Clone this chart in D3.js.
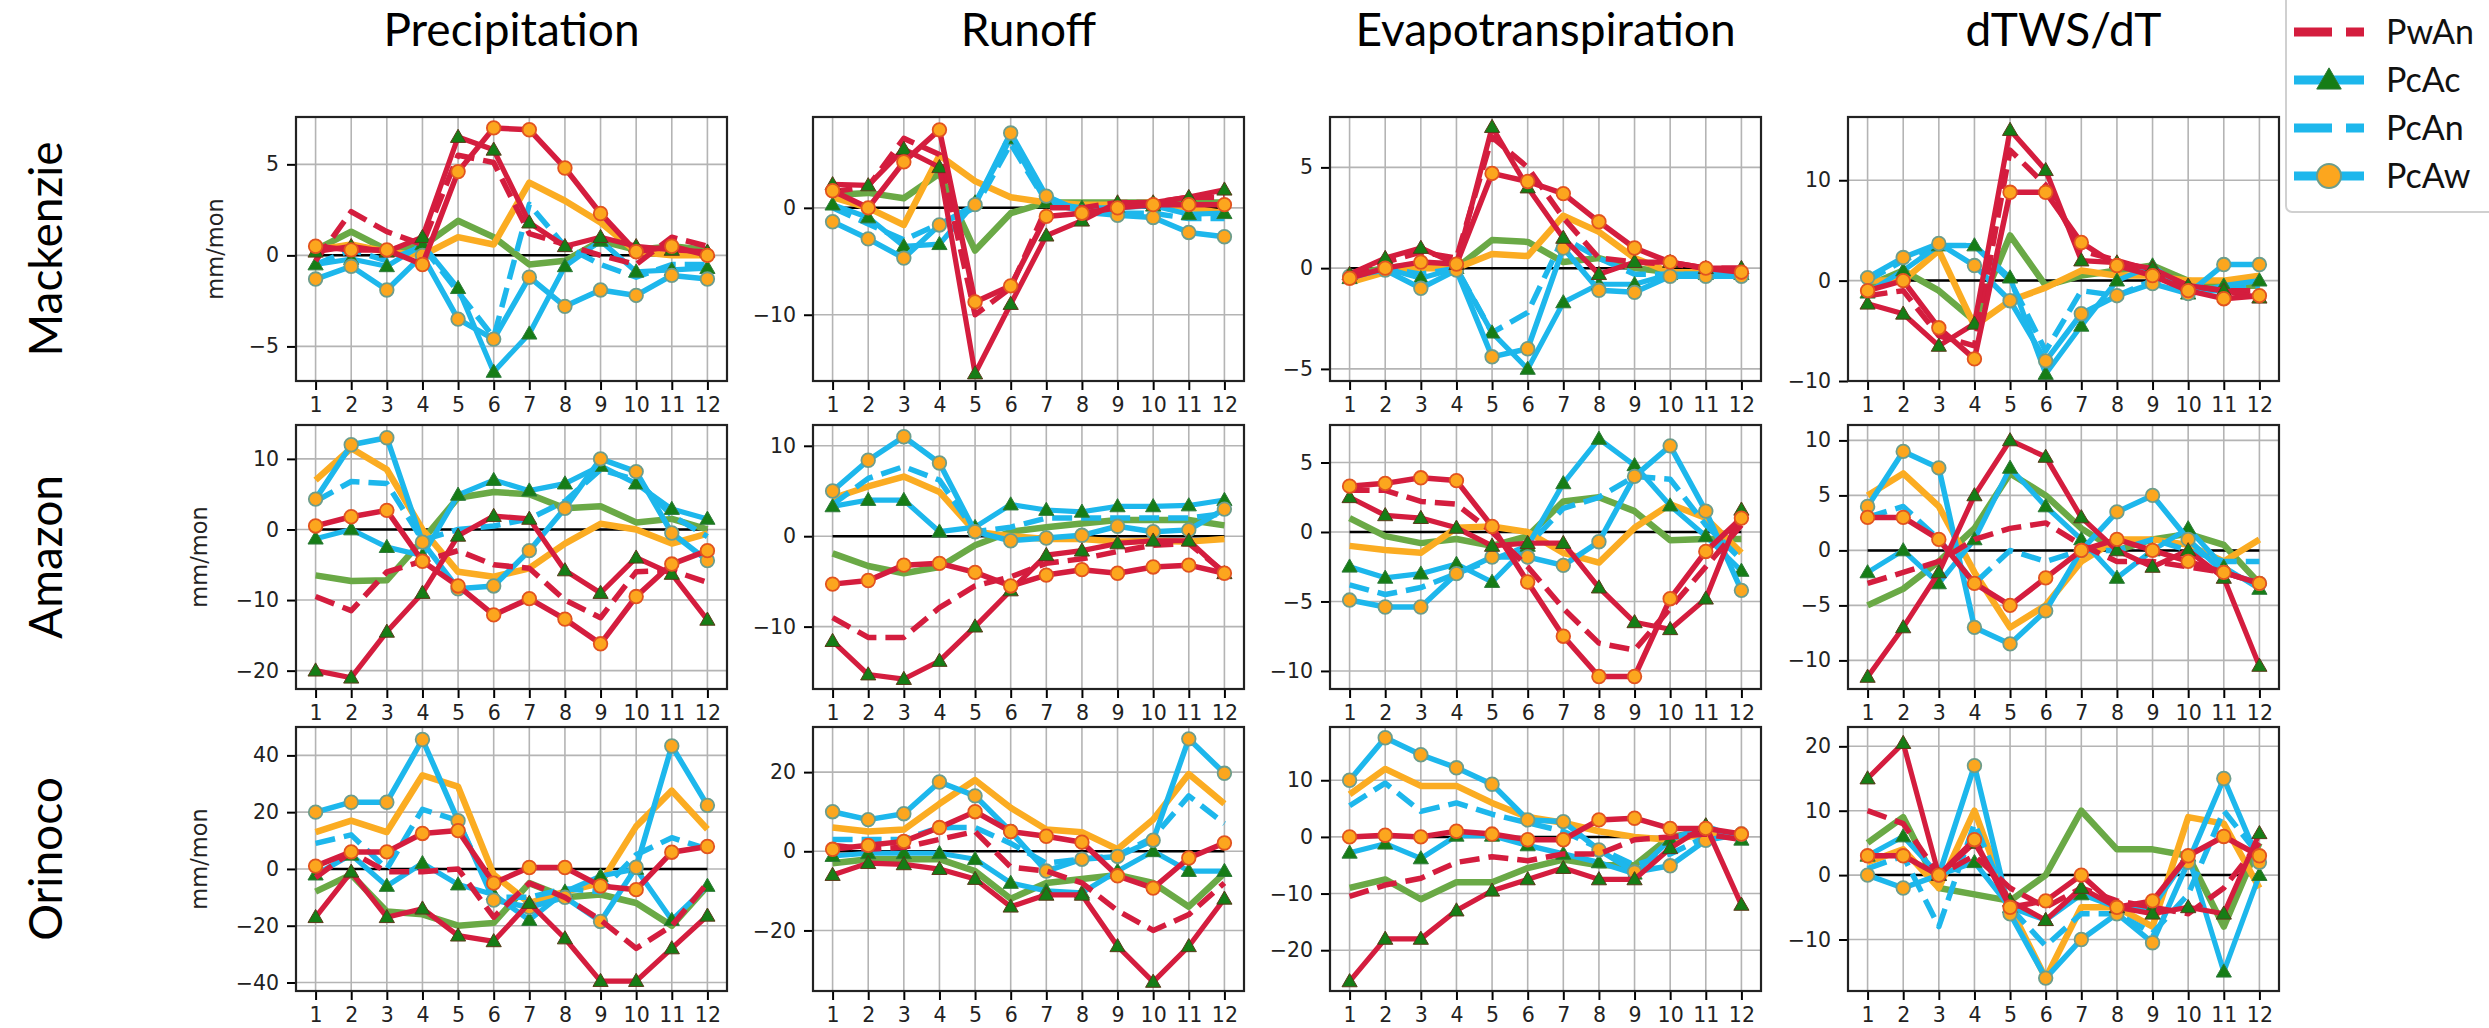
<!DOCTYPE html>
<html>
<head>
<meta charset="utf-8">
<script src="https://cdn.jsdelivr.net/npm/d3@7"></script>
<style>
  body { margin: 0; background: #fff; }
</style>
</head>
<body>
<svg id="chart"></svg>
<script>
// months on the x axis, basins by row, variables by column
const months = [1, 2, 3, 4, 5, 6, 7, 8, 9, 10, 11, 12]
const basins = ['Mackenzie', 'Amazon', 'Orinoco']
const variables = ['Precipitation', 'Runoff', 'Evapotranspiration', 'dTWS/dT']

// order of the rows inside every panel array (also the drawing order)
const seriesKeys = ['green', 'orange', 'PcAn', 'PcAc', 'PcAw', 'PwAn', 'PwAc', 'PwAw']
const legendKeys = ['PwAn', 'PcAc', 'PcAn', 'PcAw']

// Mackenzie
const mackenziePrecipitation = [
  [0.3, 1.3, 0.3, 0.5, 1.9, 1.0, -0.5, -0.3, 0.8, 0.3, 0.5, 0.3],
  [0.3, 0.6, 0.2, 0, 1.0, 0.6, 4.0, 3.0, 1.8, 0.2, 0, 0],
  [-0.5, 0.3, -0.3, 0.5, -2.0, -4.5, 2.8, 0.5, -0.5, -1.2, -0.5, -0.5],
  [-0.5, -0.2, -0.6, 0.6, -1.8, -6.4, -4.3, -0.6, 0.8, -0.9, -0.8, -0.7],
  [-1.3, -0.6, -1.9, 0, -3.5, -4.6, -1.2, -2.8, -1.9, -2.2, -1.1, -1.3],
  [-0.3, 2.4, 1.3, 0.6, 5.5, 5.1, 1.2, 0.6, 0, -0.5, 1.0, 0.5],
  [0.2, 0.5, 0.2, 1.0, 6.5, 5.8, 1.8, 0.5, 1.0, 0.5, 0.3, 0.2],
  [0.5, 0.3, 0.3, -0.5, 4.6, 7.0, 6.9, 4.8, 2.3, 0.2, 0.5, 0]
]
const mackenzieRunoff = [
  [1.2, 1.4, 0.9, 3.2, -4.0, -0.5, 0.5, 0.5, 0.5, 0.5, 0.5, 0.5],
  [1.0, 0, -1.6, 4.9, 2.5, 1.0, 0.5, 0.3, 0.3, 0.5, 0, -0.5],
  [0, -1.5, -3.0, -1.5, 0, 6.0, 0.5, -0.3, -0.5, -0.5, -1.0, -1.0],
  [0.3, -0.9, -3.6, -3.4, 0.5, 6.5, 0.5, 0, 0, 0.2, -0.6, -0.5],
  [-1.3, -2.9, -4.7, -1.6, 0.3, 7.0, 1.1, -0.4, -0.7, -0.9, -2.3, -2.7],
  [1.5, 2.0, 6.5, 5.0, -10.0, -7.5, 0, 0, 0.5, 0.5, 1.0, 1.0],
  [2.2, 2.1, 5.5, 3.8, -15.5, -9.0, -2.6, -1.2, 0.5, 0.5, 1.0, 1.7],
  [1.6, 0, 4.3, 7.3, -8.8, -7.3, -0.8, -0.5, 0, 0.3, 0.3, 0.3]
]
const mackenzieEvapotranspiration = [
  [-0.3, 0, 0.2, 0, 1.4, 1.3, 0.3, 0.5, 0, -0.2, -0.3, -0.3],
  [-0.7, -0.2, 0, 0, 0.7, 0.6, 2.6, 1.8, 0.5, -0.2, -0.2, -0.3],
  [-0.3, 0, -0.3, 0, -3.2, -2.2, 1.5, 0.5, -0.3, -0.3, -0.3, -0.3],
  [-0.5, 0, -0.5, 0, -3.2, -5.0, -1.7, -0.8, -0.8, -0.3, -0.3, -0.3],
  [-0.4, -0.1, -1.0, -0.1, -4.4, -4.0, 1.0, -1.1, -1.2, -0.4, -0.4, -0.4],
  [-0.3, 0.3, 0.8, 0.5, 6.5, 5.0, 2.5, 0.5, 0.3, 0.2, 0, 0],
  [-0.3, 0.5, 1.0, 0.2, 7.0, 4.0, 1.5, -0.3, 0.3, 0.3, 0, 0],
  [-0.5, 0, 0.3, 0.2, 4.7, 4.3, 3.7, 2.3, 1.0, 0.3, 0, -0.2]
]
const mackenzieDTWS = [
  [-0.5, 1.0, -1.0, -4.0, 4.5, -0.5, 0.5, 1.0, 1.5, 0, -0.5, -0.5],
  [0, 0, 3.0, -4.5, -2.0, -0.7, 1.0, 0.5, 0.5, 0, 0, 0.5],
  [0, 2.0, 3.5, 3.5, 0, -7.0, -1.0, -1.5, 0, -1.0, -1.0, -0.5],
  [-1.2, 1.0, 3.5, 3.5, 0.3, -9.3, -4.5, 0, 1.5, -1.3, -0.5, 0],
  [0.3, 2.3, 3.7, 1.5, -2.0, -8.0, -3.3, -1.5, -0.3, -1.3, 1.6, 1.6],
  [-1.5, -1.0, -5.5, -6.5, 13.0, 9.5, 3.0, 2.0, 1.0, -0.5, -1.0, -1.0],
  [-2.3, -3.3, -6.5, -4.3, 15.0, 11.0, 2.0, 1.8, 1.2, -0.5, -1.0, -1.7],
  [-1.0, 0, -4.7, -7.8, 8.8, 8.8, 3.8, 1.5, 0.5, -1.0, -1.8, -1.5]
]

// Amazon
const amazonPrecipitation = [
  [-6.5, -7.3, -7.2, -1.5, 4.5, 5.3, 5.0, 3.0, 3.3, 1.0, 1.5, 0],
  [7.0, 11.5, 8.5, 0, -6.0, -6.7, -5.5, -2.0, 0.8, 0, -2.0, -0.6],
  [4.0, 6.8, 6.5, -1.5, 0, 0.5, 1.5, 4.0, 8.5, 7.0, 2.0, -1.0],
  [-1.3, 0, -2.5, -3.7, 4.9, 7.0, 5.5, 6.5, 9.0, 6.5, 2.9, 1.5],
  [4.3, 12.0, 13.0, -1.8, -8.4, -8.0, -3.0, 3.0, 10.0, 8.2, -0.5, -4.4],
  [-9.5, -11.5, -6.0, -4.5, -3.0, -5.0, -5.5, -10.0, -12.5, -6.0, -5.8, -7.5],
  [-20.0, -21.0, -14.5, -9.0, -0.9, 1.9, 1.5, -5.8, -9.0, -4.0, -6.3, -12.8],
  [0.5, 1.8, 2.7, -4.5, -8.0, -12.1, -9.8, -12.7, -16.2, -9.5, -4.9, -3.0]
]
const amazonRunoff = [
  [-1.9, -3.3, -4.1, -3.4, -1.0, 0.5, 1.0, 1.4, 1.8, 1.8, 1.8, 1.2],
  [4.2, 5.5, 6.6, 4.9, 0.5, 0, -0.3, -0.3, -0.6, -0.5, -0.6, -0.3],
  [3.5, 6.4, 7.7, 6.2, 0.5, 1.0, 2.0, 2.0, 2.0, 2.0, 2.0, 2.5],
  [3.3, 4.0, 4.0, 0.5, 1.0, 3.5, 2.9, 2.7, 3.3, 3.3, 3.4, 4.0],
  [5.0, 8.4, 11.0, 8.1, 0.5, -0.5, -0.2, 0.1, 1.1, 0.5, 0.7, 3.0],
  [-9.0, -11.2, -11.2, -7.9, -5.5, -4.5, -3.0, -2.5, -1.7, -1.0, -0.8, -4.0],
  [-11.6, -15.3, -15.8, -13.8, -10.0, -6.0, -2.1, -1.6, -0.8, -0.5, -0.5, -4.1],
  [-5.3, -4.9, -3.2, -3.0, -4.0, -5.5, -4.3, -3.7, -4.1, -3.4, -3.2, -4.1]
]
const amazonEvapotranspiration = [
  [1.0, -0.3, -0.8, -0.5, -1.0, -0.3, 2.2, 2.5, 1.5, -0.6, -0.5, -0.5],
  [-1.0, -1.3, -1.5, 0.3, 0.4, 0, -1.5, -2.2, 0.3, 2.0, 1.0, -1.5],
  [-3.8, -4.5, -4.0, -3.0, -2.0, -1.0, 1.7, 2.5, 4.0, 3.8, 0.5, -2.0],
  [-2.5, -3.3, -3.0, -2.3, -3.6, -1.0, 3.5, 6.7, 4.8, 1.9, -0.3, -2.8],
  [-4.9, -5.4, -5.4, -3.0, -1.8, -1.8, -2.4, -0.7, 4.0, 6.2, 1.5, -4.2],
  [3.0, 3.0, 2.2, 2.0, 0, -2.5, -5.5, -8.0, -8.5, -5.5, -2.5, 0.5],
  [2.5, 1.2, 1.0, 0.3, -1.0, -0.8, -0.8, -4.0, -6.5, -7.0, -4.8, 1.6],
  [3.3, 3.5, 3.9, 3.7, 0.4, -3.6, -7.5, -10.4, -10.4, -4.8, -1.4, 1.0]
]
const amazonDTWS = [
  [-5.0, -3.5, -1.0, 2.0, 7.0, 5.0, 2.0, 0, 1.0, 1.5, 0.5, -3.0],
  [5.0, 7.0, 4.0, -2.0, -7.0, -5.0, -1.0, 1.0, 1.0, 0.5, -1.0, 1.0],
  [3.0, 4.0, 1.0, -3.0, 0, -1.0, 0, 0, 1.0, 0, -1.0, -1.0],
  [-2.0, 0, -3.0, 1.0, 7.5, 4.0, 1.0, -2.5, 0, 2.0, -1.5, -3.5],
  [4.0, 9.0, 7.5, -7.0, -8.5, -5.5, 0, 3.5, 5.0, 1.0, -2.0, -3.0],
  [-3.0, -2.0, -1.0, 1.0, 2.0, 2.5, 0.5, -1.0, -1.0, -1.5, -2.0, -3.0],
  [-11.5, -7.0, -2.0, 5.0, 10.0, 8.5, 3.0, 0, -1.5, 0, -2.5, -10.5],
  [3.0, 3.0, 1.0, -3.0, -5.0, -2.5, 0, 1.0, 0, -1.0, -2.0, -3.0]
]

// Orinoco
const orinocoPrecipitation = [
  [-8, -2, -15, -16, -20, -19, -5, -10, -9, -12, -20, -6],
  [13, 17, 13, 33, 29, -2, -12, -8, -5, 15, 27.6, 14],
  [9, 12, 0, 21, 17, -10, -10, -7, -8, 5, 11, 7],
  [-2, 5, -6, 2, -5.5, -9, -18, -8, -2.5, 0, -18, -6],
  [20, 23.5, 23.5, 45.6, 17, -11, -13.5, -10, -18.5, 0.6, 43.3, 22.4],
  [-3, 6, -1, -1, 0, -17, -5, -10, -18, -28, -20, -5],
  [-17, -1, -17, -14, -23.5, -25.5, -12, -24.5, -39.5, -39.5, -28, -16.5],
  [1, 6, 6, 12.5, 13.5, -5, 0.5, 0.5, -6, -7.3, 5.9, 7.9]
]
const orinocoRunoff = [
  [-3, -2, -2, -2, -5, -12, -8, -7, -6, -8, -14, -5.5],
  [6, 5, 5.5, 12, 18, 11, 5.5, 4.8, 0.5, 8, 19.5, 12],
  [3, 3, 3, 6, 6, 2, -3, -2, -1, 3.5, 14, 7],
  [-1.2, -0.5, -0.5, -0.5, -2, -8, -10, -10.5, -5, 0, -5, -5],
  [10, 8, 9.5, 17.5, 14, 5, -5, -2, -1.3, 2.8, 28.4, 19.7],
  [1.5, 0.5, 1, 3, 5, -4, -5, -8, -15, -20, -16, -8],
  [-6, -3, -3.3, -4.5, -7, -14, -11, -11, -24, -33, -24, -12],
  [0.5, 1.5, 2.5, 6, 10, 5, 3.8, 2.3, -6.2, -9.3, -1.7, 2.1]
]
const orinocoEvapotranspiration = [
  [-9, -7.5, -11, -8, -8, -5.5, -4, -5, -5, 0, 1, 0],
  [7.5, 12, 9, 9, 6, 3.5, 2.5, 1, 0, -0.5, 0.5, 0.5],
  [5.5, 9.5, 4.5, 6, 4, 2.5, 1, -2, -5, -3, 0, 0],
  [-2.8, -1.2, -3.8, 0.2, 0.2, -1.5, -3, -4.5, -6.5, -0.5, 2, -0.5],
  [10, 17.5, 14.5, 12.2, 9.3, 3, 2.7, -2.3, -6.2, -5.1, -0.6, 0.5],
  [-10.5, -8.5, -7.3, -4.5, -3.5, -4.2, -3, -3, -0.5, 0, 0.5, -0.5],
  [-25.5, -18, -18, -13, -9.5, -7.5, -5.5, -7.5, -7.5, -2, 2, -12],
  [0, 0.3, 0, 1, 0.5, -0.5, -0.5, 3, 3.3, 1.5, 1.5, 0.5]
]
const orinocoDTWS = [
  [5, 9, -2, -3, -4, 0, 10, 4, 4, 3, -8, 5],
  [2, 4, -2, 10, -5, -16, -5, -5, -8, 9, 8, -2],
  [1, 3, -8, 8, -5, -11, -6, -6, -9, -3, 10, 3],
  [3, 6, 0, 2, -5, -7, -3, -5, -5, 3, -15, 0],
  [0, -2, 0, 17, -6, -16, -10, -6, -10.5, 2, 15, 2],
  [10, 8, 0, 3, -2, -5, -2, -4, -5, -6, -2, 5],
  [15, 20.5, 0, 5, -4, -7, -2, -5, -6, -5, -6, 6.5],
  [3, 3, 0, 5.5, -5, -4, 0, -5, -4, 3, 6, 3]
]

// y ranges and tick values of each panel (rows = basins, cols = variables)
const yDomains = [
  [[-6.9, 7.6], [-16.2, 8.5], [-5.6, 7.5], [-10, 16.3]],
  [[-22.6, 14.8], [-16.9, 12.3], [-11.3, 7.7], [-12.6, 11.4]],
  [[-43, 50], [-35.3, 31.4], [-27.2, 19.4], [-18, 23]]
]
const yTickValues = [
  [[-5, 0, 5], [-10, 0], [-5, 0, 5], [-10, 0, 10]],
  [[-20, -10, 0, 10], [-10, 0, 10], [-10, -5, 0, 5], [-10, -5, 0, 5, 10]],
  [[-40, -20, 0, 20, 40], [-20, 0, 20], [-20, -10, 0, 10], [-10, 0, 10, 20]]
]

const panelData = [
  [mackenziePrecipitation, mackenzieRunoff, mackenzieEvapotranspiration, mackenzieDTWS],
  [amazonPrecipitation, amazonRunoff, amazonEvapotranspiration, amazonDTWS],
  [orinocoPrecipitation, orinocoRunoff, orinocoEvapotranspiration, orinocoDTWS]
]

// ---------------- drawing ----------------
const width = 2489
const height = 1028

const red = '#d41d3e'
const blue = '#1db7ec'
const triFill = '#167d16'
const circFill = '#fca61e'

const seriesStyle = {
  green: { color: '#6aa946', width: 6.5 },
  orange: { color: '#fbac22', width: 6.5 },
  PcAn: { color: blue, width: 5.5, dash: '20,9' },
  PcAc: { color: blue, width: 5.2, marker: 'triangle', edge: '#2f7a3a' },
  PcAw: { color: blue, width: 5.5, marker: 'circle', edge: '#6c9d8c' },
  PwAn: { color: red, width: 5.5, dash: '20,9' },
  PwAc: { color: red, width: 5.2, marker: 'triangle', edge: '#5a3a1a' },
  PwAw: { color: red, width: 5.5, marker: 'circle', edge: '#e2531f' }
}

const colLeft = [296, 813, 1330, 1848]
const rowTop = [117, 425, 727]
const panelW = 431
const panelH = 264
// horizontal offset of the "mm/mon" label per row (depends on tick label width)
const yLabelOffset = [-73, -89, -89]

const svg = d3.select('#chart').attr('width', width).attr('height', height)
svg.append('rect').attr('width', width).attr('height', height).attr('fill', '#fff')

const titleFont = 'Lato, "Open Sans", sans-serif'
const tickFont = '"DejaVu Sans", sans-serif'

const x = d3.scaleLinear().domain([0.45, 12.55]).range([0, panelW])

// column titles
svg.append('g')
  .selectAll('text')
  .data(variables)
  .join('text')
  .attr('x', (d, i) => colLeft[i] + panelW / 2)
  .attr('y', 46)
  .attr('text-anchor', 'middle')
  .attr('font-family', titleFont)
  .attr('font-size', 46)
  .attr('fill', '#000')
  .text((d) => d)

// row labels
svg.append('g')
  .selectAll('text')
  .data(basins)
  .join('text')
  .attr('transform', (d, i) => `translate(62,${rowTop[i] + panelH / 2}) rotate(-90)`)
  .attr('text-anchor', 'middle')
  .attr('font-family', titleFont)
  .attr('font-size', 46)
  .attr('fill', '#000')
  .text((d) => d)

const triangle = d3.symbol().type(d3.symbolTriangle).size(100)

basins.forEach((basin, r) => {
  variables.forEach((variable, c) => {
    const g = svg.append('g')
      .attr('transform', `translate(${colLeft[c]},${rowTop[r]})`)

    const y = d3.scaleLinear().domain(yDomains[r][c]).range([panelH, 0])
    const clipId = `clip-${r}-${c}`

    g.append('clipPath').attr('id', clipId)
      .append('rect').attr('width', panelW).attr('height', panelH)

    // grid
    const grid = g.append('g').attr('class', 'grid')
    grid.selectAll('line.gx')
      .data(months)
      .join('line')
      .attr('class', 'gx')
      .attr('x1', (d) => x(d)).attr('x2', (d) => x(d))
      .attr('y1', 0).attr('y2', panelH)
      .attr('stroke', '#b4b4b4').attr('stroke-width', 1.6)
    grid.selectAll('line.gy')
      .data(yTickValues[r][c])
      .join('line')
      .attr('class', 'gy')
      .attr('x1', 0).attr('x2', panelW)
      .attr('y1', (d) => y(d)).attr('y2', (d) => y(d))
      .attr('stroke', '#b4b4b4').attr('stroke-width', 1.6)

    const plot = g.append('g').attr('clip-path', `url(#${clipId})`)

    // zero line
    plot.append('path')
      .datum(months)
      .attr('d', d3.line().x((d) => x(d)).y(() => y(0)))
      .attr('stroke', '#000').attr('stroke-width', 2.5).attr('fill', 'none')

    const line = d3.line().x((d, i) => x(months[i])).y((d) => y(d))

    seriesKeys.forEach((key, k) => {
      const st = seriesStyle[key]
      const values = panelData[r][c][k]
      plot.append('path')
        .datum(values)
        .attr('d', line)
        .attr('fill', 'none')
        .attr('stroke', st.color)
        .attr('stroke-width', st.width)
        .attr('stroke-linejoin', 'round')
        .attr('stroke-dasharray', st.dash || null)

      if (st.marker === 'circle') {
        plot.append('g')
          .selectAll('circle')
          .data(values)
          .join('circle')
          .attr('cx', (d, i) => x(months[i]))
          .attr('cy', (d) => y(d))
          .attr('r', 6.8)
          .attr('fill', circFill)
          .attr('stroke', st.edge)
          .attr('stroke-width', 1.8)
      }
      if (st.marker === 'triangle') {
        plot.append('g')
          .selectAll('path')
          .data(values)
          .join('path')
          .attr('d', triangle)
          .attr('transform', (d, i) => `translate(${x(months[i])},${y(d) + 1})`)
          .attr('fill', triFill)
          .attr('stroke', st.edge)
          .attr('stroke-width', 1)
      }
    })

    // axes
    const xAxis = g.append('g')
      .attr('transform', `translate(0,${panelH})`)
      .call(d3.axisBottom(x).tickValues(months).tickSize(9).tickPadding(7).tickSizeOuter(0))
    const yAxis = g.append('g')
      .call(d3.axisLeft(y).tickValues(yTickValues[r][c]).tickSize(9).tickPadding(8).tickSizeOuter(0))

    ;[xAxis, yAxis].forEach((ax) => {
      ax.select('.domain').remove()
      ax.selectAll('line').attr('stroke', '#000').attr('stroke-width', 2)
      ax.selectAll('text')
        .attr('font-family', tickFont)
        .attr('font-size', 20.5)
        .attr('fill', '#222')
    })

    // frame
    g.append('rect')
      .attr('width', panelW).attr('height', panelH)
      .attr('fill', 'none').attr('stroke', '#222').attr('stroke-width', 2.2)

    if (c === 0) {
      g.append('text')
        .attr('transform', `translate(${yLabelOffset[r]},${panelH / 2}) rotate(-90)`)
        .attr('text-anchor', 'middle')
        .attr('font-family', tickFont)
        .attr('font-size', 22.5)
        .attr('fill', '#222')
        .text('mm/mon')
    }
  })
})

// legend
const legend = svg.append('g').attr('transform', 'translate(2286,0)')
legend.append('rect')
  .attr('x', 0).attr('y', -12)
  .attr('width', 240).attr('height', 224)
  .attr('rx', 6)
  .attr('fill', '#fff')
  .attr('stroke', '#d0d0d0').attr('stroke-width', 2)

const legendItems = legend.selectAll('g.item')
  .data(legendKeys)
  .join('g')
  .attr('class', 'item')
  .attr('transform', (d, i) => `translate(0,${32 + i * 48})`)

legendItems.append('line')
  .attr('x1', 8).attr('x2', 78)
  .attr('stroke', (d) => seriesStyle[d].color)
  .attr('stroke-width', 9)
  .attr('stroke-dasharray', (d) => (seriesStyle[d].dash ? '38,14' : null))

legendItems.filter((d) => seriesStyle[d].marker === 'triangle')
  .append('path')
  .attr('d', d3.symbol().type(d3.symbolTriangle).size(260))
  .attr('transform', 'translate(43,2)')
  .attr('fill', triFill)
  .attr('stroke', seriesStyle.PcAc.edge)

legendItems.filter((d) => seriesStyle[d].marker === 'circle')
  .append('circle')
  .attr('cx', 43).attr('r', 12)
  .attr('fill', circFill)
  .attr('stroke', seriesStyle.PcAw.edge)
  .attr('stroke-width', 2)

legendItems.append('text')
  .attr('x', 100)
  .attr('dy', '0.35em')
  .attr('font-family', titleFont)
  .attr('font-size', 34)
  .attr('fill', '#111')
  .text((d) => d)
</script>
</body>
</html>
